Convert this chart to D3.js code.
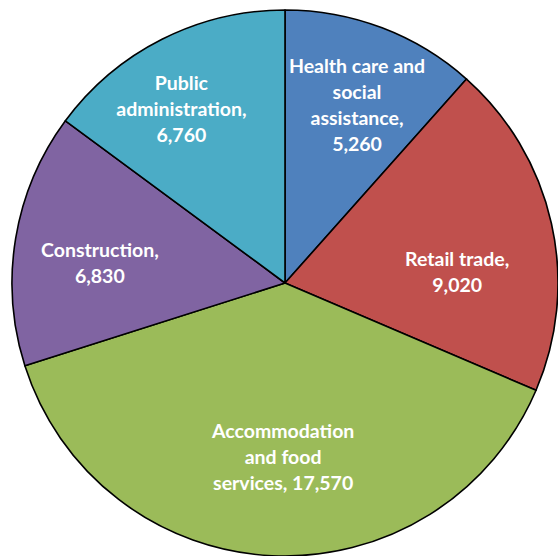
<!DOCTYPE html>
<html>
<head>
<meta charset="utf-8">
<script src="https://cdn.jsdelivr.net/npm/d3@7"></script>
<style>
  html, body { margin: 0; padding: 0; background: #fff; }
  svg { display: block; }
</style>
</head>
<body>
<script>
// industries, clockwise from 12 o'clock
var categories = ['Health care and social assistance', 'Retail trade', 'Accommodation and food services', 'Construction', 'Public administration'];
var values = [5260, 9020, 17570, 6830, 6760];
var labelLines = [
  ['Health care and', 'social', 'assistance,', '5,260'],
  ['Retail trade,', '9,020'],
  ['Accommodation', 'and food', 'services, 17,570'],
  ['Construction,', '6,830'],
  ['Public', 'administration,', '6,760']
];
var colors = ['#4F81BD', '#C0504D', '#9BBB59', '#8064A2', '#4BACC6'];

var width = 558, height = 556;
var cx = 285, cy = 283, radius = 273;
// small label nudges (px) so text sits like the original
var nudge = [[6, -4], [-9, 30], [7, -11], [-2, 10], [-20, -8]];

var svg = d3.select('body').append('svg')
  .attr('width', width)
  .attr('height', height);

var g = svg.append('g').attr('transform', 'translate(' + cx + ',' + cy + ')');

var pie = d3.pie().sort(null).value(function(d) { return d; });
var arcs = pie(values);

var arc = d3.arc().innerRadius(0).outerRadius(radius);
var labelArc = d3.arc().innerRadius(radius * 0.68).outerRadius(radius * 0.68);

g.selectAll('path').data(arcs).enter().append('path')
  .attr('d', arc)
  .attr('fill', function(d, i) { return colors[i]; })
  .attr('stroke', '#000')
  .attr('stroke-width', 1.6)
  .attr('stroke-linejoin', 'round');

var lineH = 26;
var labels = g.selectAll('text.lbl').data(arcs).enter().append('text')
  .attr('class', 'lbl')
  .attr('transform', function(d, i) {
    var c = labelArc.centroid(d);
    return 'translate(' + (c[0] + nudge[i][0]) + ',' + (c[1] + nudge[i][1]) + ')';
  })
  .attr('text-anchor', 'middle')
  .style('font-family', 'Lato, "Open Sans", sans-serif')
  .style('font-weight', 'bold')
  .style('font-size', '19.5px')
  .attr('fill', '#fff');

labels.each(function(d, i) {
  var lines = labelLines[i];
  var t = d3.select(this);
  lines.forEach(function(s, k) {
    t.append('tspan')
      .attr('x', 0)
      .attr('y', (k - (lines.length - 1) / 2) * lineH)
      .attr('dy', '0.35em')
      .text(s);
  });
});
</script>
</body>
</html>
